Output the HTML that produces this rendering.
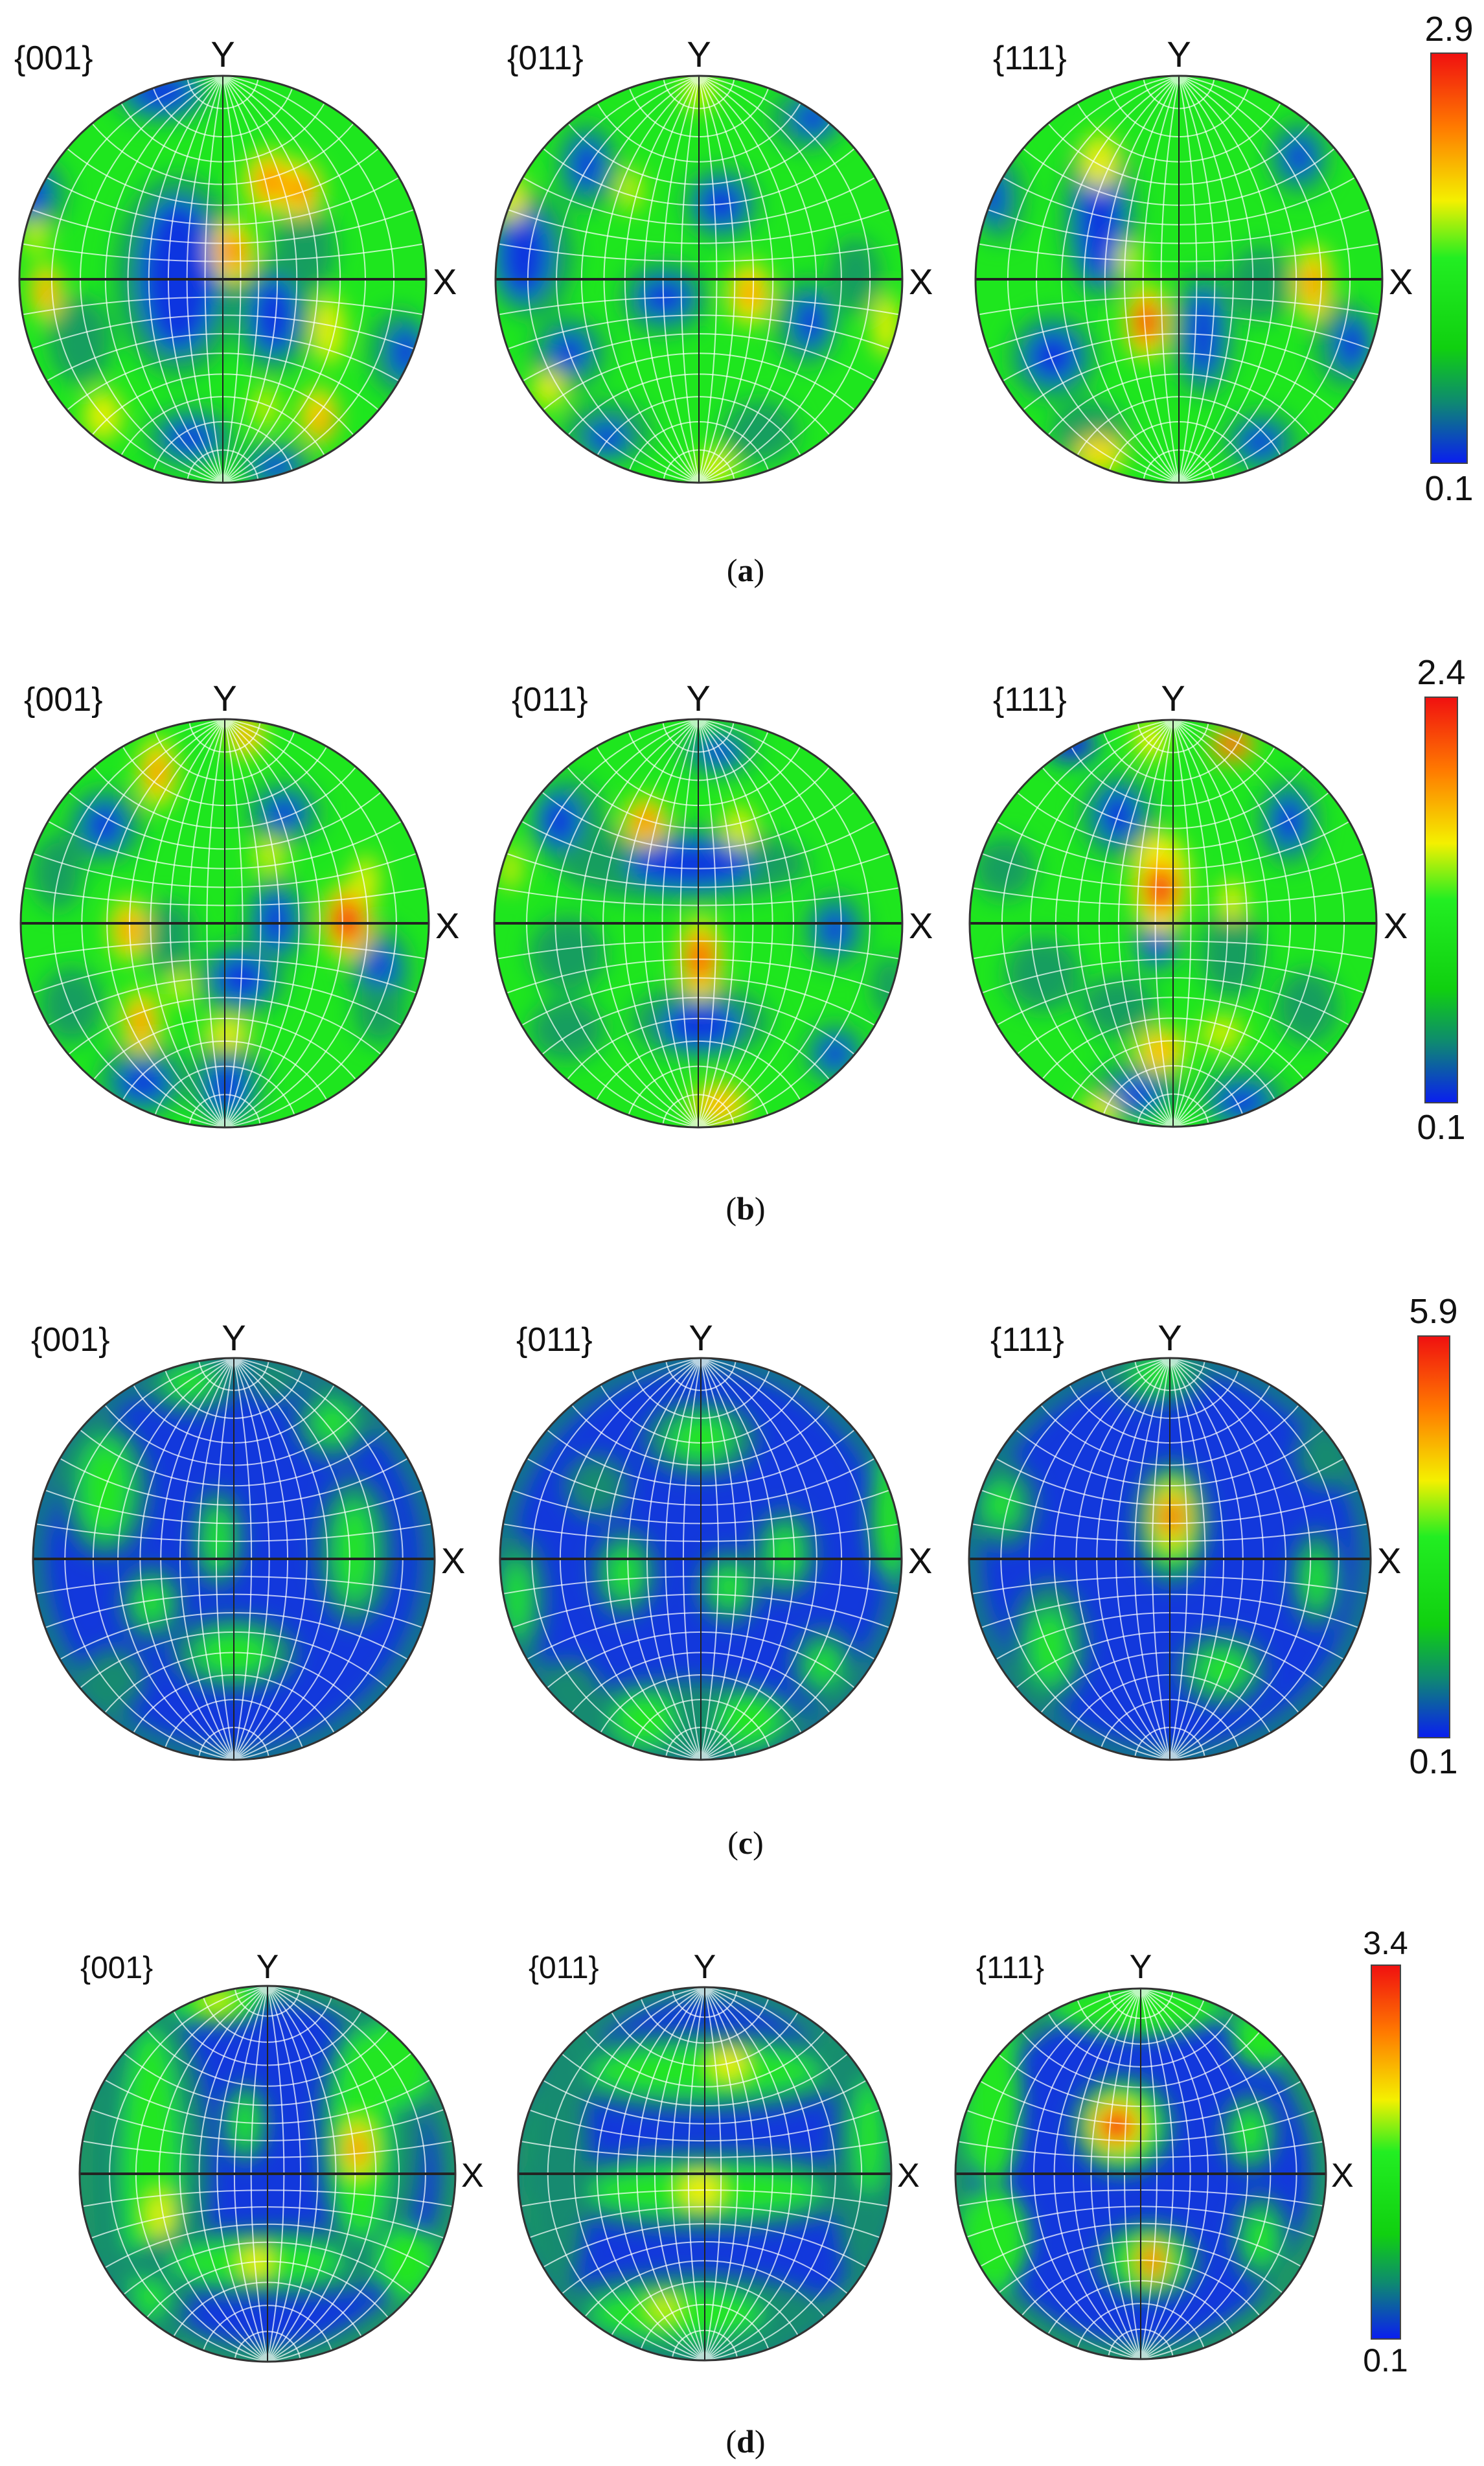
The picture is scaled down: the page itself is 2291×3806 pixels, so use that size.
<!DOCTYPE html>
<html><head><meta charset="utf-8"><style>html,body{margin:0;padding:0;background:#fff}svg{display:block}</style></head><body>
<svg width="2291" height="3806" viewBox="0 0 2291 3806" xmlns="http://www.w3.org/2000/svg">
<defs>
<clipPath id="cc"><circle cx="0" cy="0" r="100"/></clipPath>
<filter id="bl" x="-60%" y="-60%" width="220%" height="220%"><feGaussianBlur stdDeviation="5.5"/></filter>
<linearGradient id="cb" x1="0" y1="0" x2="0" y2="1">
<stop offset="0" stop-color="#f01010"/><stop offset="0.18" stop-color="#ff7a00"/><stop offset="0.36" stop-color="#f4f000"/><stop offset="0.5" stop-color="#22ee22"/><stop offset="0.72" stop-color="#10d010"/><stop offset="0.85" stop-color="#0e8a70"/><stop offset="1" stop-color="#0a1ef0"/>
</linearGradient>
<g id="grid" fill="none" stroke="#fff" stroke-opacity="0.7" stroke-width="2">
<path vector-effect="non-scaling-stroke" d="M0 -100A575.8 575.8 0 0 1 0 100M0 -100A292.4 292.4 0 0 1 0 100M0 -100A200 200 0 0 1 0 100M0 -100A155.6 155.6 0 0 1 0 100M0 -100A130.5 130.5 0 0 1 0 100M0 -100A115.5 115.5 0 0 1 0 100M0 -100A106.4 106.4 0 0 1 0 100M0 -100A101.5 101.5 0 0 1 0 100M0 -100A575.8 575.8 0 0 0 0 100M0 -100A292.4 292.4 0 0 0 0 100M0 -100A200 200 0 0 0 0 100M0 -100A155.6 155.6 0 0 0 0 100M0 -100A130.5 130.5 0 0 0 0 100M0 -100A115.5 115.5 0 0 0 0 100M0 -100A106.4 106.4 0 0 0 0 100M0 -100A101.5 101.5 0 0 0 0 100"/>
<path vector-effect="non-scaling-stroke" d="M-17.36 -98.48A17.63 17.63 0 0 0 17.36 -98.48M-34.2 -93.97A36.4 36.4 0 0 0 34.2 -93.97M-50 -86.6A57.74 57.74 0 0 0 50 -86.6M-64.28 -76.6A83.91 83.91 0 0 0 64.28 -76.6M-76.6 -64.28A119.18 119.18 0 0 0 76.6 -64.28M-86.6 -50A173.2 173.2 0 0 0 86.6 -50M-93.97 -34.2A274.75 274.75 0 0 0 93.97 -34.2M-98.48 -17.36A567.1 567.1 0 0 0 98.48 -17.36M-17.36 98.48A17.63 17.63 0 0 1 17.36 98.48M-34.2 93.97A36.4 36.4 0 0 1 34.2 93.97M-50 86.6A57.74 57.74 0 0 1 50 86.6M-64.28 76.6A83.91 83.91 0 0 1 64.28 76.6M-76.6 64.28A119.18 119.18 0 0 1 76.6 64.28M-86.6 50A173.2 173.2 0 0 1 86.6 50M-93.97 34.2A274.75 274.75 0 0 1 93.97 34.2M-98.48 17.36A567.1 567.1 0 0 1 98.48 17.36"/>
</g>
<g id="axes" fill="none">
<path vector-effect="non-scaling-stroke" d="M-100 0H100" stroke="#222" stroke-width="4"/>
<path vector-effect="non-scaling-stroke" d="M0 -100V100" stroke="#222" stroke-width="2"/>
<circle vector-effect="non-scaling-stroke" r="100" stroke="#333" stroke-width="3"/>
</g>
</defs>

<g font-family="Liberation Sans, Arial, sans-serif" fill="#111">
<!-- ============ PANEL A ============ -->
<g transform="translate(344,431) scale(3.14)">
<g clip-path="url(#cc)"><rect x="-100" y="-100" width="200" height="200" fill="#1ee61e"/>
<g filter="url(#bl)" class="bb">
<ellipse cx="-30" cy="-92" rx="16" ry="10" fill="#189e5e"/><ellipse cx="-30" cy="-92" rx="10" ry="6" fill="#1034e0"/>
<ellipse cx="-92" cy="-42" rx="10" ry="12" fill="#189e5e"/><ellipse cx="-95" cy="-42" rx="6" ry="7" fill="#1034e0"/>
<ellipse cx="-22" cy="-2" rx="20" ry="32" fill="#189e5e"/><ellipse cx="-22" cy="-2" rx="12" ry="24" fill="#1034e0"/>
<ellipse cx="25" cy="18" rx="12" ry="18" fill="#189e5e"/><ellipse cx="25" cy="18" rx="7" ry="12" fill="#1034e0"/>
<ellipse cx="87" cy="36" rx="10" ry="14" fill="#189e5e"/><ellipse cx="90" cy="36" rx="5" ry="8" fill="#1034e0"/>
<ellipse cx="-16" cy="78" rx="14" ry="10" fill="#189e5e"/><ellipse cx="-16" cy="78" rx="8" ry="5" fill="#1034e0"/>
<ellipse cx="26" cy="92" rx="12" ry="8" fill="#189e5e"/><ellipse cx="26" cy="92" rx="6" ry="4" fill="#1034e0"/>
<ellipse cx="40" cy="-15" rx="10" ry="14" fill="#189e5e"/><ellipse cx="-70" cy="30" rx="10" ry="14" fill="#189e5e"/>
<ellipse cx="23" cy="-48" rx="8" ry="10" fill="#f4f000"/><ellipse cx="38" cy="-44" rx="7" ry="9" fill="#f4f000"/>
<ellipse cx="23" cy="-48" rx="4" ry="6" fill="#ff7000"/><ellipse cx="38" cy="-44" rx="4" ry="5" fill="#ff7000"/>
<ellipse cx="5" cy="-14" rx="7" ry="10" fill="#f4f000"/><ellipse cx="5" cy="-14" rx="4" ry="6" fill="#ff5000"/>
<ellipse cx="-87" cy="6" rx="5" ry="9" fill="#f4f000"/><ellipse cx="-87" cy="6" rx="3" ry="5" fill="#ff9000"/>
<ellipse cx="52" cy="25" rx="5" ry="11" fill="#e8f000"/><ellipse cx="47" cy="67" rx="6" ry="9" fill="#f4e000"/><ellipse cx="49" cy="70" rx="3" ry="4" fill="#ff9000"/>
<ellipse cx="-59" cy="67" rx="6" ry="8" fill="#e8f000"/><ellipse cx="-92" cy="-21" rx="4" ry="6" fill="#c8f000"/><ellipse cx="21" cy="63" rx="4" ry="7" fill="#c8f000"/>
</g>
<use href="#grid"/></g><use href="#axes"/></g>

<g transform="translate(1079,431) scale(3.14)">
<g clip-path="url(#cc)"><rect x="-100" y="-100" width="200" height="200" fill="#1ee61e"/>
<g filter="url(#bl)" class="bb">
<ellipse cx="-83" cy="-12" rx="14" ry="20" fill="#189e5e"/><ellipse cx="-86" cy="-12" rx="8" ry="14" fill="#1034e0"/>
<ellipse cx="-55" cy="-56" rx="10" ry="14" fill="#189e5e"/><ellipse cx="-55" cy="-56" rx="5" ry="8" fill="#1034e0"/>
<ellipse cx="53" cy="-79" rx="12" ry="10" fill="#189e5e"/><ellipse cx="56" cy="-79" rx="6" ry="5" fill="#1034e0"/>
<ellipse cx="11" cy="-37" rx="12" ry="12" fill="#189e5e"/><ellipse cx="11" cy="-37" rx="7" ry="7" fill="#1034e0"/>
<ellipse cx="-17" cy="9" rx="14" ry="12" fill="#189e5e"/><ellipse cx="-17" cy="9" rx="8" ry="6" fill="#1034e0"/>
<ellipse cx="53" cy="21" rx="10" ry="14" fill="#189e5e"/><ellipse cx="55" cy="21" rx="5" ry="8" fill="#1034e0"/>
<ellipse cx="-64" cy="36" rx="12" ry="12" fill="#189e5e"/><ellipse cx="-64" cy="36" rx="6" ry="6" fill="#1034e0"/>
<ellipse cx="77" cy="-2" rx="8" ry="12" fill="#189e5e"/><ellipse cx="30" cy="75" rx="12" ry="10" fill="#189e5e"/><ellipse cx="-45" cy="75" rx="14" ry="10" fill="#189e5e"/><ellipse cx="-45" cy="78" rx="6" ry="5" fill="#1034e0"/>
<ellipse cx="25" cy="7" rx="7" ry="10" fill="#f4f000"/><ellipse cx="25" cy="7" rx="4" ry="5" fill="#ff9000"/>
<ellipse cx="-92" cy="-40" rx="4" ry="8" fill="#f4f000"/><ellipse cx="92" cy="23" rx="4" ry="10" fill="#f4f000"/>
<ellipse cx="-74" cy="54" rx="5" ry="6" fill="#e8f000"/><ellipse cx="-34" cy="-44" rx="4" ry="7" fill="#c8f000"/><ellipse cx="0" cy="-92" rx="5" ry="6" fill="#c8f000"/><ellipse cx="8" cy="92" rx="6" ry="5" fill="#e8f000"/>
</g>
<use href="#grid"/></g><use href="#axes"/></g>

<g transform="translate(1820,431) scale(3.14)">
<g clip-path="url(#cc)"><rect x="-100" y="-100" width="200" height="200" fill="#1ee61e"/>
<g filter="url(#bl)" class="bb">
<ellipse cx="-39" cy="-30" rx="12" ry="26" fill="#189e5e"/><ellipse cx="-39" cy="-30" rx="7" ry="20" fill="#1034e0"/>
<ellipse cx="-88" cy="-40" rx="8" ry="14" fill="#189e5e"/><ellipse cx="-92" cy="-40" rx="4" ry="8" fill="#1034e0"/>
<ellipse cx="-62" cy="38" rx="14" ry="14" fill="#189e5e"/><ellipse cx="-62" cy="38" rx="8" ry="8" fill="#1034e0"/>
<ellipse cx="12" cy="27" rx="10" ry="20" fill="#189e5e"/><ellipse cx="12" cy="27" rx="5" ry="14" fill="#1034e0"/>
<ellipse cx="40" cy="2" rx="10" ry="12" fill="#189e5e"/><ellipse cx="82" cy="32" rx="10" ry="14" fill="#189e5e"/><ellipse cx="85" cy="32" rx="5" ry="8" fill="#1034e0"/>
<ellipse cx="59" cy="-60" rx="10" ry="12" fill="#189e5e"/><ellipse cx="59" cy="-60" rx="5" ry="6" fill="#1034e0"/>
<ellipse cx="-44" cy="75" rx="12" ry="10" fill="#189e5e"/><ellipse cx="40" cy="80" rx="12" ry="10" fill="#189e5e"/><ellipse cx="40" cy="80" rx="6" ry="5" fill="#1034e0"/>
<ellipse cx="-16" cy="21" rx="7" ry="12" fill="#f4f000"/><ellipse cx="-16" cy="21" rx="5" ry="9" fill="#ff6000"/><ellipse cx="-16" cy="20" rx="3" ry="6" fill="#f01010"/>
<ellipse cx="66" cy="2" rx="6" ry="12" fill="#f4f000"/><ellipse cx="66" cy="2" rx="3" ry="7" fill="#ff8000"/>
<ellipse cx="-39" cy="-58" rx="6" ry="9" fill="#e8f000"/><ellipse cx="-39" cy="86" rx="8" ry="6" fill="#f4e000"/><ellipse cx="-25" cy="-10" rx="4" ry="6" fill="#c8f000"/>
</g>
<use href="#grid"/></g><use href="#axes"/></g>

<g font-size="52"><text x="22" y="107">{001}</text><text x="783" y="107">{011}</text><text x="1533" y="107">{111}</text></g>
<g font-size="56" text-anchor="middle"><text x="344" y="103">Y</text><text x="1079" y="103">Y</text><text x="1820" y="103">Y</text></g>
<g font-size="56"><text x="668" y="454">X</text><text x="1403" y="454">X</text><text x="2144" y="454">X</text></g>
<rect x="2209" y="82" width="56" height="633" fill="url(#cb)" stroke="#444" stroke-width="2"/>
<g font-size="54" text-anchor="middle"><text x="2237" y="63">2.9</text><text x="2237" y="772">0.1</text></g>
<text x="1151" y="897" font-family="Liberation Serif, serif" font-size="50" text-anchor="middle">(<tspan font-weight="bold">a</tspan>)</text>

<!-- ============ PANEL B ============ -->
<g transform="translate(347,1425) scale(3.15)">
<g clip-path="url(#cc)"><rect x="-100" y="-100" width="200" height="200" fill="#1ee61e"/>
<g filter="url(#bl)" class="bb">
<ellipse cx="-59" cy="-48" rx="12" ry="12" fill="#189e5e"/><ellipse cx="-59" cy="-48" rx="6" ry="7" fill="#1034e0"/>
<ellipse cx="29" cy="-54" rx="12" ry="10" fill="#189e5e"/><ellipse cx="29" cy="-54" rx="6" ry="5" fill="#1034e0"/>
<ellipse cx="25" cy="-1" rx="10" ry="14" fill="#189e5e"/><ellipse cx="25" cy="-1" rx="5" ry="9" fill="#1034e0"/>
<ellipse cx="-27" cy="7" rx="8" ry="12" fill="#189e5e"/><ellipse cx="8" cy="27" rx="14" ry="12" fill="#189e5e"/><ellipse cx="8" cy="27" rx="8" ry="7" fill="#1034e0"/>
<ellipse cx="76" cy="23" rx="10" ry="14" fill="#189e5e"/><ellipse cx="76" cy="23" rx="5" ry="8" fill="#1034e0"/>
<ellipse cx="-40" cy="76" rx="14" ry="12" fill="#189e5e"/><ellipse cx="-40" cy="78" rx="8" ry="6" fill="#1034e0"/>
<ellipse cx="1" cy="78" rx="12" ry="14" fill="#189e5e"/><ellipse cx="1" cy="80" rx="6" ry="8" fill="#1034e0"/>
<ellipse cx="76" cy="44" rx="8" ry="10" fill="#189e5e"/><ellipse cx="-82" cy="-25" rx="8" ry="12" fill="#189e5e"/><ellipse cx="-75" cy="40" rx="10" ry="12" fill="#189e5e"/>
<ellipse cx="60" cy="-1" rx="8" ry="12" fill="#f4f000"/><ellipse cx="60" cy="-1" rx="6" ry="9" fill="#ff5000"/><ellipse cx="60" cy="-1" rx="4" ry="6" fill="#f01010"/>
<ellipse cx="-47" cy="3" rx="6" ry="10" fill="#f4f000"/><ellipse cx="-47" cy="3" rx="3" ry="6" fill="#ff8000"/>
<ellipse cx="-33" cy="-74" rx="6" ry="11" fill="#f4f000"/><ellipse cx="-33" cy="-74" rx="3" ry="6" fill="#ff7000"/>
<ellipse cx="-41" cy="48" rx="6" ry="10" fill="#f4f000"/><ellipse cx="-41" cy="48" rx="3" ry="6" fill="#ff7000"/>
<ellipse cx="10" cy="-92" rx="6" ry="7" fill="#f4f000"/><ellipse cx="10" cy="-92" rx="3" ry="4" fill="#ff8000"/>
<ellipse cx="69" cy="-21" rx="4" ry="8" fill="#e8f000"/><ellipse cx="22" cy="-33" rx="5" ry="6" fill="#c8f000"/><ellipse cx="1" cy="54" rx="7" ry="5" fill="#e8f000"/><ellipse cx="-22" cy="31" rx="4" ry="5" fill="#d8f000"/>
</g>
<use href="#grid"/></g><use href="#axes"/></g>

<g transform="translate(1078,1425) scale(3.15)">
<g clip-path="url(#cc)"><rect x="-100" y="-100" width="200" height="200" fill="#1ee61e"/>
<g filter="url(#bl)" class="bb">
<ellipse cx="-8" cy="-29" rx="40" ry="12" fill="#189e5e"/><ellipse cx="-4" cy="-29" rx="20" ry="7" fill="#1034e0"/>
<ellipse cx="-64" cy="-50" rx="12" ry="14" fill="#189e5e"/><ellipse cx="-68" cy="-50" rx="6" ry="8" fill="#1034e0"/>
<ellipse cx="10" cy="-84" rx="12" ry="8" fill="#189e5e"/><ellipse cx="10" cy="-84" rx="6" ry="4" fill="#1034e0"/>
<ellipse cx="-64" cy="15" rx="12" ry="12" fill="#189e5e"/><ellipse cx="67" cy="3" rx="10" ry="12" fill="#189e5e"/><ellipse cx="67" cy="3" rx="5" ry="6" fill="#1034e0"/>
<ellipse cx="1" cy="48" rx="22" ry="12" fill="#189e5e"/><ellipse cx="1" cy="50" rx="12" ry="7" fill="#1034e0"/>
<ellipse cx="-64" cy="52" rx="12" ry="10" fill="#189e5e"/><ellipse cx="67" cy="64" rx="10" ry="10" fill="#189e5e"/><ellipse cx="67" cy="64" rx="5" ry="5" fill="#1034e0"/><ellipse cx="94" cy="31" rx="6" ry="10" fill="#189e5e"/>
<ellipse cx="1" cy="17" rx="7" ry="13" fill="#f4f000"/><ellipse cx="1" cy="17" rx="5" ry="9" fill="#ff5000"/>
<ellipse cx="-26" cy="-50" rx="7" ry="8" fill="#f4f000"/><ellipse cx="-26" cy="-50" rx="4" ry="5" fill="#ff7000"/>
<ellipse cx="10" cy="89" rx="9" ry="7" fill="#f4e000"/><ellipse cx="10" cy="89" rx="4" ry="3" fill="#ff9000"/>
<ellipse cx="20" cy="-47" rx="5" ry="7" fill="#d8f000"/><ellipse cx="-92" cy="-27" rx="3" ry="7" fill="#e8f000"/>
</g>
<use href="#grid"/></g><use href="#axes"/></g>

<g transform="translate(1811,1425) scale(3.14)">
<g clip-path="url(#cc)"><rect x="-100" y="-100" width="200" height="200" fill="#1ee61e"/>
<g filter="url(#bl)" class="bb">
<ellipse cx="-27" cy="-53" rx="12" ry="14" fill="#189e5e"/><ellipse cx="-27" cy="-53" rx="6" ry="8" fill="#1034e0"/>
<ellipse cx="57" cy="-50" rx="10" ry="14" fill="#189e5e"/><ellipse cx="57" cy="-50" rx="5" ry="8" fill="#1034e0"/>
<ellipse cx="-83" cy="-27" rx="10" ry="10" fill="#189e5e"/><ellipse cx="-8" cy="9" rx="8" ry="10" fill="#189e5e"/><ellipse cx="-8" cy="9" rx="4" ry="6" fill="#1034e0"/>
<ellipse cx="29" cy="15" rx="10" ry="14" fill="#189e5e"/><ellipse cx="-64" cy="25" rx="12" ry="12" fill="#189e5e"/><ellipse cx="-27" cy="41" rx="12" ry="10" fill="#189e5e"/>
<ellipse cx="66" cy="41" rx="10" ry="12" fill="#189e5e"/><ellipse cx="-18" cy="82" rx="14" ry="10" fill="#189e5e"/><ellipse cx="-18" cy="84" rx="7" ry="5" fill="#1034e0"/>
<ellipse cx="34" cy="86" rx="14" ry="10" fill="#189e5e"/><ellipse cx="34" cy="88" rx="8" ry="5" fill="#1034e0"/><ellipse cx="-50" cy="-88" rx="8" ry="6" fill="#1034e0"/>
<ellipse cx="-6" cy="-20" rx="9" ry="16" fill="#f4f000"/><ellipse cx="-6" cy="-17" rx="6" ry="9" fill="#ff5000"/><ellipse cx="-6" cy="-16" rx="4" ry="6" fill="#f01010"/>
<ellipse cx="29" cy="-11" rx="4" ry="7" fill="#e8f000"/>
<ellipse cx="29" cy="-88" rx="7" ry="6" fill="#ffb000"/><ellipse cx="29" cy="-88" rx="4" ry="4" fill="#f03010"/>
<ellipse cx="-11" cy="-90" rx="5" ry="6" fill="#f4f000"/><ellipse cx="-6" cy="62" rx="8" ry="7" fill="#f4f000"/><ellipse cx="-6" cy="62" rx="4" ry="4" fill="#ffa000"/><ellipse cx="24" cy="54" rx="7" ry="5" fill="#d8f000"/><ellipse cx="-36" cy="92" rx="6" ry="4" fill="#f4f000"/>
</g>
<use href="#grid"/></g><use href="#axes"/></g>

<g font-size="52"><text x="37" y="1097">{001}</text><text x="790" y="1097">{011}</text><text x="1533" y="1097">{111}</text></g>
<g font-size="56" text-anchor="middle"><text x="347" y="1097">Y</text><text x="1078" y="1097">Y</text><text x="1811" y="1097">Y</text></g>
<g font-size="56"><text x="672" y="1448">X</text><text x="1403" y="1448">X</text><text x="2136" y="1448">X</text></g>
<rect x="2200" y="1076" width="50" height="626" fill="url(#cb)" stroke="#444" stroke-width="2"/>
<g font-size="54" text-anchor="middle"><text x="2225" y="1056">2.4</text><text x="2225" y="1758">0.1</text></g>
<text x="1151" y="1882" font-family="Liberation Serif, serif" font-size="50" text-anchor="middle">(<tspan font-weight="bold">b</tspan>)</text>

<!-- ============ PANEL C ============ -->
<g transform="translate(361,2406) scale(3.1)">
<g clip-path="url(#cc)"><rect x="-100" y="-100" width="200" height="200" fill="#1238dc"/>
<g filter="url(#bl)" class="bb">
<circle r="100" fill="none" stroke="#178a70" stroke-width="10"/>
<ellipse cx="-64" cy="-35" rx="14" ry="22" fill="#178a70"/><ellipse cx="-64" cy="-35" rx="8" ry="16" fill="#22e622"/>
<ellipse cx="49" cy="-68" rx="12" ry="12" fill="#178a70"/><ellipse cx="49" cy="-68" rx="6" ry="6" fill="#22e622"/>
<ellipse cx="60" cy="-4" rx="12" ry="24" fill="#178a70"/><ellipse cx="60" cy="-4" rx="6" ry="16" fill="#22e622"/>
<ellipse cx="-8" cy="-10" rx="8" ry="16" fill="#178a70"/><ellipse cx="-8" cy="-10" rx="4" ry="10" fill="#22e622"/>
<ellipse cx="-41" cy="22" rx="10" ry="12" fill="#178a70"/><ellipse cx="-41" cy="22" rx="5" ry="6" fill="#22e622"/>
<ellipse cx="0" cy="47" rx="20" ry="12" fill="#178a70"/><ellipse cx="0" cy="47" rx="12" ry="7" fill="#22e622"/>
<ellipse cx="-22" cy="-88" rx="16" ry="10" fill="#178a70"/><ellipse cx="-22" cy="-88" rx="8" ry="5" fill="#22e622"/>
<ellipse cx="-60" cy="60" rx="10" ry="10" fill="#178a70"/><ellipse cx="20" cy="-90" rx="8" ry="8" fill="#178a70"/>
</g>
<use href="#grid"/></g><use href="#axes"/></g>

<g transform="translate(1082,2406) scale(3.1)">
<g clip-path="url(#cc)"><rect x="-100" y="-100" width="200" height="200" fill="#1238dc"/>
<g filter="url(#bl)" class="bb">
<circle r="100" fill="none" stroke="#178a70" stroke-width="10"/>
<ellipse cx="0" cy="-60" rx="18" ry="12" fill="#178a70"/><ellipse cx="0" cy="-60" rx="10" ry="7" fill="#22e622"/>
<ellipse cx="42" cy="-3" rx="10" ry="14" fill="#178a70"/><ellipse cx="42" cy="-3" rx="5" ry="8" fill="#22e622"/>
<ellipse cx="-38" cy="7" rx="10" ry="14" fill="#178a70"/><ellipse cx="-38" cy="7" rx="5" ry="8" fill="#22e622"/>
<ellipse cx="14" cy="14" rx="10" ry="12" fill="#178a70"/><ellipse cx="14" cy="14" rx="5" ry="6" fill="#22e622"/>
<ellipse cx="-90" cy="20" rx="8" ry="20" fill="#178a70"/><ellipse cx="-92" cy="20" rx="4" ry="12" fill="#22e622"/>
<ellipse cx="94" cy="-21" rx="6" ry="20" fill="#22e622"/>
<ellipse cx="61" cy="53" rx="10" ry="12" fill="#178a70"/><ellipse cx="61" cy="53" rx="5" ry="6" fill="#22e622"/>
<ellipse cx="-10" cy="82" rx="40" ry="14" fill="#178a70"/><ellipse cx="-28" cy="80" rx="10" ry="8" fill="#22e622"/><ellipse cx="24" cy="80" rx="10" ry="8" fill="#22e622"/>
<ellipse cx="-66" cy="66" rx="10" ry="10" fill="#178a70"/><ellipse cx="-52" cy="-36" rx="10" ry="10" fill="#178a70"/>
</g>
<use href="#grid"/></g><use href="#axes"/></g>

<g transform="translate(1806,2406) scale(3.1)">
<g clip-path="url(#cc)"><rect x="-100" y="-100" width="200" height="200" fill="#1238dc"/>
<g filter="url(#bl)" class="bb">
<circle r="100" fill="none" stroke="#178a70" stroke-width="10"/>
<ellipse cx="1" cy="-18" rx="12" ry="20" fill="#178a70"/><ellipse cx="1" cy="-19" rx="8" ry="15" fill="#22e622"/>
<ellipse cx="1" cy="-21" rx="6" ry="10" fill="#f4f000" class="hot"/><ellipse cx="1" cy="-21" rx="4" ry="7" fill="#ff5000" class="hot"/><ellipse cx="1" cy="-21" rx="3" ry="5" fill="#f01010" class="hot"/>
<ellipse cx="-60" cy="42" rx="12" ry="20" fill="#178a70"/><ellipse cx="-60" cy="44" rx="6" ry="12" fill="#22e622"/>
<ellipse cx="26" cy="55" rx="14" ry="12" fill="#178a70"/><ellipse cx="26" cy="55" rx="8" ry="6" fill="#22e622"/>
<ellipse cx="73" cy="10" rx="8" ry="16" fill="#178a70"/><ellipse cx="73" cy="10" rx="4" ry="9" fill="#22e622"/>
<ellipse cx="-82" cy="-27" rx="10" ry="14" fill="#178a70"/><ellipse cx="-84" cy="-27" rx="5" ry="7" fill="#22e622"/>
<ellipse cx="-7" cy="-92" rx="16" ry="10" fill="#178a70"/><ellipse cx="-7" cy="-92" rx="8" ry="5" fill="#22e622"/>
<ellipse cx="78" cy="-51" rx="10" ry="10" fill="#178a70"/>
</g>
<use href="#grid"/></g><use href="#axes"/></g>

<g font-size="52"><text x="48" y="2085">{001}</text><text x="797" y="2085">{011}</text><text x="1529" y="2085">{111}</text></g>
<g font-size="56" text-anchor="middle"><text x="361" y="2084">Y</text><text x="1082" y="2084">Y</text><text x="1806" y="2084">Y</text></g>
<g font-size="56"><text x="681" y="2428">X</text><text x="1402" y="2428">X</text><text x="2126" y="2428">X</text></g>
<rect x="2189" y="2062" width="49" height="620" fill="url(#cb)" stroke="#444" stroke-width="2"/>
<g font-size="54" text-anchor="middle"><text x="2213" y="2042">5.9</text><text x="2213" y="2737">0.1</text></g>
<text x="1151" y="2861" font-family="Liberation Serif, serif" font-size="50" text-anchor="middle">(<tspan font-weight="bold">c</tspan>)</text>

<!-- ============ PANEL D ============ -->
<g transform="translate(413,3355) scale(2.9)">
<g clip-path="url(#cc)"><rect x="-100" y="-100" width="200" height="200" fill="#1238dc"/>
<g filter="url(#bl)" class="bb">
<circle r="100" fill="none" stroke="#1a9a60" stroke-width="16"/>
<ellipse cx="-62" cy="0" rx="20" ry="60" fill="#178a70"/><ellipse cx="-62" cy="0" rx="10" ry="50" fill="#22e622"/>
<ellipse cx="55" cy="-20" rx="18" ry="45" fill="#178a70"/><ellipse cx="50" cy="-20" rx="10" ry="36" fill="#22e622"/>
<ellipse cx="48" cy="-13" rx="5" ry="10" fill="#f4f000"/><ellipse cx="48" cy="-13" rx="3" ry="7" fill="#ff6000"/>
<ellipse cx="-57" cy="22" rx="4" ry="8" fill="#e8f000"/>
<ellipse cx="0" cy="47" rx="50" ry="12" fill="#178a70"/><ellipse cx="-6" cy="47" rx="30" ry="7" fill="#22e622"/><ellipse cx="-6" cy="47" rx="5" ry="5" fill="#f4f000"/>
<ellipse cx="-12" cy="-27" rx="8" ry="14" fill="#178a70"/><ellipse cx="-12" cy="-27" rx="4" ry="9" fill="#22e622"/>
<ellipse cx="-27" cy="-92" rx="16" ry="8" fill="#22e622"/><ellipse cx="-27" cy="-92" rx="5" ry="4" fill="#c8f000"/>
<ellipse cx="70" cy="-60" rx="12" ry="16" fill="#22e622"/><ellipse cx="74" cy="47" rx="10" ry="12" fill="#22e622"/>
</g>
<use href="#grid"/></g><use href="#axes"/></g>

<g transform="translate(1088,3355) scale(2.88)">
<g clip-path="url(#cc)"><rect x="-100" y="-100" width="200" height="200" fill="#1238dc"/>
<g filter="url(#bl)" class="bb">
<circle r="100" fill="none" stroke="#1a9a60" stroke-width="12"/>
<ellipse cx="0" cy="-55" rx="55" ry="14" fill="#178a70"/><ellipse cx="0" cy="-55" rx="40" ry="8" fill="#22e622"/>
<ellipse cx="13" cy="-59" rx="6" ry="5" fill="#f4f000"/>
<ellipse cx="0" cy="9" rx="55" ry="14" fill="#178a70"/><ellipse cx="0" cy="9" rx="40" ry="8" fill="#22e622"/>
<ellipse cx="-2" cy="9" rx="7" ry="6" fill="#f4f000"/>
<ellipse cx="-10" cy="75" rx="50" ry="14" fill="#178a70"/><ellipse cx="-15" cy="75" rx="30" ry="8" fill="#22e622"/><ellipse cx="-22" cy="72" rx="5" ry="4" fill="#d8f000"/>
<ellipse cx="-78" cy="-10" rx="10" ry="50" fill="#178a70"/><ellipse cx="85" cy="-10" rx="10" ry="50" fill="#178a70"/><ellipse cx="88" cy="-20" rx="5" ry="20" fill="#22e622"/>
</g>
<use href="#grid"/></g><use href="#axes"/></g>

<g transform="translate(1761,3355) scale(2.86)">
<g clip-path="url(#cc)"><rect x="-100" y="-100" width="200" height="200" fill="#1238dc"/>
<g filter="url(#bl)" class="bb">
<circle r="100" fill="none" stroke="#1a9a60" stroke-width="16"/>
<ellipse cx="-10" cy="-26" rx="18" ry="18" fill="#178a70"/><ellipse cx="-10" cy="-26" rx="13" ry="13" fill="#22e622"/>
<ellipse cx="-13" cy="-26" rx="9" ry="9" fill="#f4f000"/><ellipse cx="-13" cy="-26" rx="7" ry="7" fill="#ff5000"/><ellipse cx="-13" cy="-26" rx="4" ry="5" fill="#f01010"/>
<ellipse cx="4" cy="47" rx="18" ry="14" fill="#178a70"/><ellipse cx="4" cy="47" rx="12" ry="10" fill="#22e622"/><ellipse cx="6" cy="47" rx="5" ry="7" fill="#f4b000"/><ellipse cx="6" cy="47" rx="3" ry="4" fill="#ff6000"/>
<ellipse cx="-80" cy="-40" rx="10" ry="30" fill="#22e622"/><ellipse cx="-79" cy="35" rx="12" ry="18" fill="#22e622"/>
<ellipse cx="65" cy="35" rx="10" ry="16" fill="#178a70"/><ellipse cx="65" cy="35" rx="5" ry="9" fill="#22e622"/>
<ellipse cx="59" cy="-22" rx="10" ry="14" fill="#178a70"/><ellipse cx="59" cy="-22" rx="5" ry="8" fill="#22e622"/>
<ellipse cx="-2" cy="-90" rx="30" ry="10" fill="#22e622"/><ellipse cx="65" cy="-73" rx="10" ry="10" fill="#22e622"/>
</g>
<use href="#grid"/></g><use href="#axes"/></g>

<g font-size="48"><text x="124" y="3053">{001}</text><text x="816" y="3053">{011}</text><text x="1507" y="3053">{111}</text></g>
<g font-size="52" text-anchor="middle"><text x="413" y="3053">Y</text><text x="1088" y="3053">Y</text><text x="1761" y="3053">Y</text></g>
<g font-size="52"><text x="712" y="3375">X</text><text x="1385" y="3375">X</text><text x="2055" y="3375">X</text></g>
<rect x="2117" y="3033" width="45" height="577" fill="url(#cb)" stroke="#444" stroke-width="2"/>
<g font-size="50" text-anchor="middle"><text x="2139" y="3016">3.4</text><text x="2139" y="3660">0.1</text></g>
<text x="1151" y="3785" font-family="Liberation Serif, serif" font-size="50" text-anchor="middle">(<tspan font-weight="bold">d</tspan>)</text>
</g>
</svg>
<script>
document.querySelectorAll('g.bb ellipse').forEach(function(e){
  var k = 1.55;
  var f = (e.getAttribute('fill')||'').toLowerCase();
  if (f==='#f01010' || f==='#ff5000' || f==='#ff6000' || f==='#f03010') k = 1.4;
  e.setAttribute('rx', (parseFloat(e.getAttribute('rx'))*k).toFixed(1));
  e.setAttribute('ry', (parseFloat(e.getAttribute('ry'))*k).toFixed(1));
});
</script>
</body></html>
